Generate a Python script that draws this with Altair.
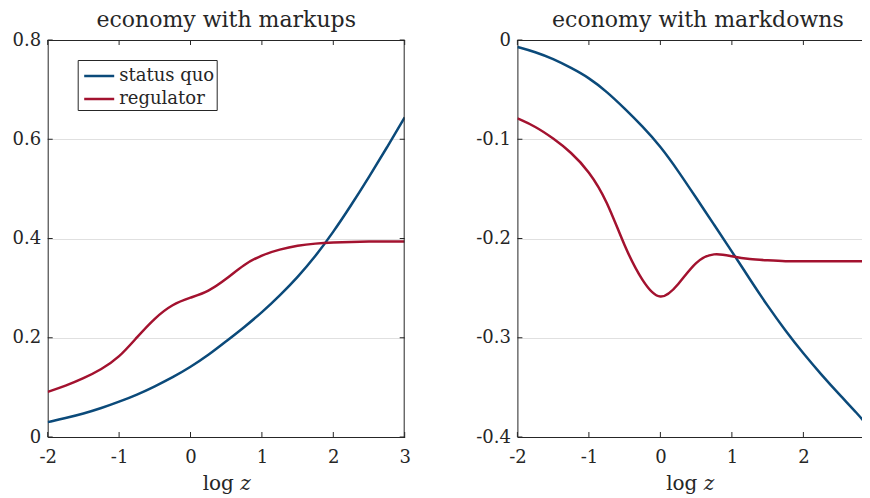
import altair as alt
import pandas as pd

# ---------------- data ----------------
series = ["status quo", "regulator"]
colors = ["#0b4a7a", "#a3122f"]

x_left = [-2, -1.75, -1.5, -1.25, -1, -0.75, -0.5, -0.25, 0, 0.25, 0.5, 0.75,
          1, 1.25, 1.5, 1.75, 2, 2.25, 2.5, 2.75, 3]
sq_left = [0.030, 0.038, 0.047, 0.058, 0.071, 0.085, 0.102, 0.120, 0.141, 0.165,
           0.193, 0.221, 0.251, 0.285, 0.322, 0.364, 0.413, 0.467, 0.524, 0.583, 0.644]
reg_left = [0.091, 0.103, 0.118, 0.136, 0.160, 0.201, 0.240, 0.268, 0.281, 0.293,
            0.318, 0.348, 0.367, 0.378, 0.386, 0.390, 0.392, 0.393, 0.394, 0.394, 0.394]

x_right = [-2, -1.75, -1.5, -1.25, -1, -0.75, -0.5, -0.25, 0, 0.25, 0.5, 0.75,
           1, 1.25, 1.5, 1.75, 2, 2.25, 2.5, 2.75, 2.93]
sq_right = [-0.007, -0.012, -0.019, -0.028, -0.038, -0.052, -0.069, -0.087, -0.107,
            -0.132, -0.159, -0.186, -0.213, -0.241, -0.268, -0.293, -0.316, -0.337,
            -0.357, -0.376, -0.391]
reg_right = [-0.079, -0.087, -0.099, -0.113, -0.132, -0.161, -0.209, -0.244, -0.265,
             -0.247, -0.222, -0.214, -0.218, -0.221, -0.222, -0.223, -0.223, -0.223,
             -0.223, -0.223, -0.223]

left_xticks = [-2, -1, 0, 1, 2, 3]
left_yticks = [0, 0.2, 0.4, 0.6, 0.8]
right_xticks = [-2, -1, 0, 1, 2]
right_yticks = [-0.4, -0.3, -0.2, -0.1, 0]

titles = ["economy with markups", "economy with markdowns"]
xlabel = "log 𝑧"

# ---------------- styling ----------------
FONT = "DejaVu Serif"
INK = "#262626"
PX_PER_UNIT = 71.5
W1, H = 357, 397
PAD_L, PAD_T = 39.7, 32
SVG_W, SVG_H = 854, 482
GAP = 112.7
W2 = round(SVG_W - PAD_L - W1 - GAP, 1)
RIGHT_XMAX = round(-2 + W2 / PX_PER_UNIT, 3)
TL = 5


def long_df(x, a, b):
    return pd.DataFrame({
        "x": list(x) + list(x),
        "y": list(a) + list(b),
        "series": [series[0]] * len(x) + [series[1]] * len(x),
    })


def panel(df, xdom, ydom, xt, yt, title, w, legend, right_frame, title_dx=0):
    xs = alt.Scale(domain=xdom, nice=False, zero=False)
    ys = alt.Scale(domain=ydom, nice=False, zero=False)
    xaxis = alt.Axis(values=xt, labelExpr="toString(datum.value)", tickSize=0,
                     domain=True, domainColor=INK, domainWidth=1, grid=False,
                     title=xlabel, labelFont=FONT, labelFontSize=18, labelColor=INK,
                     labelPadding=11, labelOverlap=False, labelFlush=False,
                     titleFont=FONT, titleFontSize=20, titleFontWeight="normal",
                     titleColor=INK, titlePadding=7)
    yaxis = alt.Axis(values=yt, labelExpr="toString(datum.value)", tickSize=0,
                     domain=True, domainColor=INK, domainWidth=1, grid=True,
                     gridColor="#e0e0e0", gridWidth=1, title=None,
                     labelFont=FONT, labelFontSize=18, labelColor=INK,
                     labelPadding=7, labelOverlap=False, labelFlush=False)
    lines = alt.Chart(df).mark_line(strokeWidth=2.5, clip=True, interpolate="basis").encode(
        x=alt.X("x:Q", scale=xs, axis=xaxis),
        y=alt.Y("y:Q", scale=ys, axis=yaxis),
        color=alt.Color("series:N", scale=alt.Scale(domain=series, range=colors),
                        sort=series, legend=legend),
    )
    xt_df = pd.DataFrame({"x": xt})
    yt_df = pd.DataFrame({"y": yt})
    one = pd.DataFrame({"a": [0]})
    bot = alt.Chart(xt_df).mark_rule(color=INK, strokeWidth=1).encode(
        x=alt.X("x:Q", scale=xs), y=alt.value(H), y2=alt.value(H - TL))
    top = alt.Chart(xt_df).mark_rule(color=INK, strokeWidth=1).encode(
        x=alt.X("x:Q", scale=xs), y=alt.value(0), y2=alt.value(TL))
    lft = alt.Chart(yt_df).mark_rule(color=INK, strokeWidth=1).encode(
        y=alt.Y("y:Q", scale=ys), x=alt.value(0), x2=alt.value(TL))
    topline = alt.Chart(one).mark_rule(color=INK, strokeWidth=1).encode(
        y=alt.value(0.5), x=alt.value(0), x2=alt.value(w))
    layers = [lines, bot, top, lft, topline]
    if right_frame:
        rgt = alt.Chart(yt_df).mark_rule(color=INK, strokeWidth=1).encode(
            y=alt.Y("y:Q", scale=ys), x=alt.value(w - TL), x2=alt.value(w))
        rline = alt.Chart(one).mark_rule(color=INK, strokeWidth=1).encode(
            x=alt.value(w - 0.5), y=alt.value(0), y2=alt.value(H))
        layers += [rgt, rline]
    return alt.layer(*layers).properties(
        width=w, height=H,
        title=alt.TitleParams(title, font=FONT, fontSize=22, fontWeight="normal",
                              color=INK, offset=-1, dx=title_dx),
    )


legend = alt.Legend(orient="none", legendX=30, legendY=20, title=None,
                    symbolType="M-1.2,0H1.2", symbolSize=625, symbolStrokeWidth=2.5,
                    labelFont=FONT, labelFontSize=18, labelColor=INK, labelOffset=6,
                    strokeColor=INK, fillColor="white", padding=2, rowPadding=0,
                    symbolOffset=5.5)

left = panel(long_df(x_left, sq_left, reg_left), [-2, 3], [0, 0.8],
             left_xticks, left_yticks, titles[0], W1, legend, True)
right = panel(long_df(x_right, sq_right, reg_right), [-2, RIGHT_XMAX], [-0.4, 0],
              right_xticks, right_yticks, titles[1], W2, None, False,
              title_dx=round((357 - W2) / 2 + 2, 1))

chart = alt.HConcatChart(hconcat=[left, right], spacing=GAP, bounds="flush").resolve_scale(
    color="independent"
).properties(
    autosize=alt.AutoSizeParams(type="none"),
    padding={"left": PAD_L, "top": PAD_T, "right": SVG_W - PAD_L, "bottom": SVG_H - PAD_T},
    background="white",
).configure_view(strokeWidth=0)

chart.save("out.html", embed_options={"renderer": "svg", "actions": False})
